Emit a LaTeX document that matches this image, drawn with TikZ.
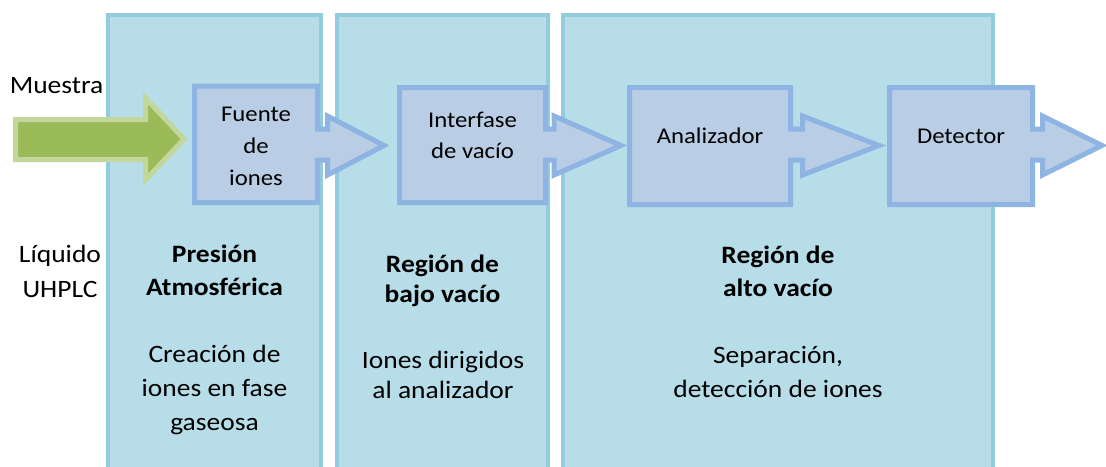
\documentclass[tikz,border=0pt]{standalone}
\usepackage{fontspec}
\setmainfont{Carlito}[FakeStretch=1.1]
\usetikzlibrary{positioning}

\definecolor{panelfill}{HTML}{B7DDE8}
\definecolor{panelline}{HTML}{93CDDD}
\definecolor{boxfill}{HTML}{B9CDE5}
\definecolor{boxline}{HTML}{8EB4E3}
\definecolor{greenfill}{HTML}{9BBB59}
\definecolor{greenline}{HTML}{C3D69B}

% box with an arrow on its right side: L, T, R, B, head base, tip
\newcommand{\ioncallout}[6]{%
  \draw[callout] (#1,#2) -- (#3,#2) -- (#3,129) -- (#5,129) -- (#5,116) -- (#6,145.5)
    -- (#5,175) -- (#5,160) -- (#3,160) -- (#3,#4) -- (#1,#4) -- cycle;}

\begin{document}
\begin{tikzpicture}[x=1pt,y=-1pt,
   panel/.style={draw=panelline,fill=panelfill,line width=4.5pt,
     minimum width=#1,minimum height=475pt,inner sep=0pt},
   callout/.style={draw=boxline,fill=boxfill,line width=5pt},
   greenarrow/.style={draw=greenline,fill=greenfill,line width=5pt},
   txt/.style={font=\fontsize{25}{33}\selectfont,align=center,anchor=base,inner sep=0pt},
   lbl/.style={font=\fontsize{22.5}{32}\selectfont,align=center,anchor=base,inner sep=0pt}]

 \useasboundingbox (0,0) rectangle (1106,466);

 %the three pressure regions
 \node[panel=213pt] (p_atm)  at (214.5,252.5) {};
 \node[panel=211pt] (p_low)  at (442.5,252.5) {};
 \node[panel=430pt] (p_high) at (778,252.5) {};

 %sample inlet
 \draw[greenarrow] (15.5,119.5) -- (145.5,119.5) -- (145.5,98) -- (184,139)
   -- (145.5,180) -- (145.5,159.5) -- (15.5,159.5) -- cycle;
 \node[txt] (muestra) at (56.5,93) {Muestra};
 \node[txt] (liquido) at (60,297) {Líquido\\[2pt]UHPLC};

 %instrument stages (base = last line)
 \ioncallout{194.5}{86}{317.5}{202.5}{327.5}{384}
 \ioncallout{399.5}{87.5}{545.5}{202.5}{554}{621}
 \ioncallout{629.5}{87.5}{790.5}{204.5}{802.5}{879}
 \ioncallout{889.5}{87.5}{1032.5}{204.5}{1042.5}{1102}

 \node[lbl] (fuente)     at (256,185)   {Fuente\\de\\iones};
 \node[lbl] (interfase)  at (472.5,158) {Interfase\\[-1pt]de vacío};
 \node[lbl] (analizador) at (710,143)   {Analizador};
 \node[lbl] (detector)   at (961,143)   {Detector};

 %region descriptions
 \node[txt] (atm_t)  at (214.5,295) {\textbf{Presión}\\\textbf{Atmosférica}};
 \node[txt] (atm_d)  at (214.5,430) {Creación de\\[1pt]iones en fase\\[1pt]gaseosa};
 \node[txt] (low_t)  at (442.5,302) {\textbf{Región de}\\[-3pt]\textbf{bajo vacío}};
 \node[txt] (low_d)  at (443,398)   {Iones dirigidos\\[-3pt]al analizador};
 \node[txt] (high_t) at (778,296)   {\textbf{Región de}\\\textbf{alto vacío}};
 \node[txt] (high_d) at (778,397)   {Separación,\\[1pt]detección de iones};

\end{tikzpicture}
\end{document}
